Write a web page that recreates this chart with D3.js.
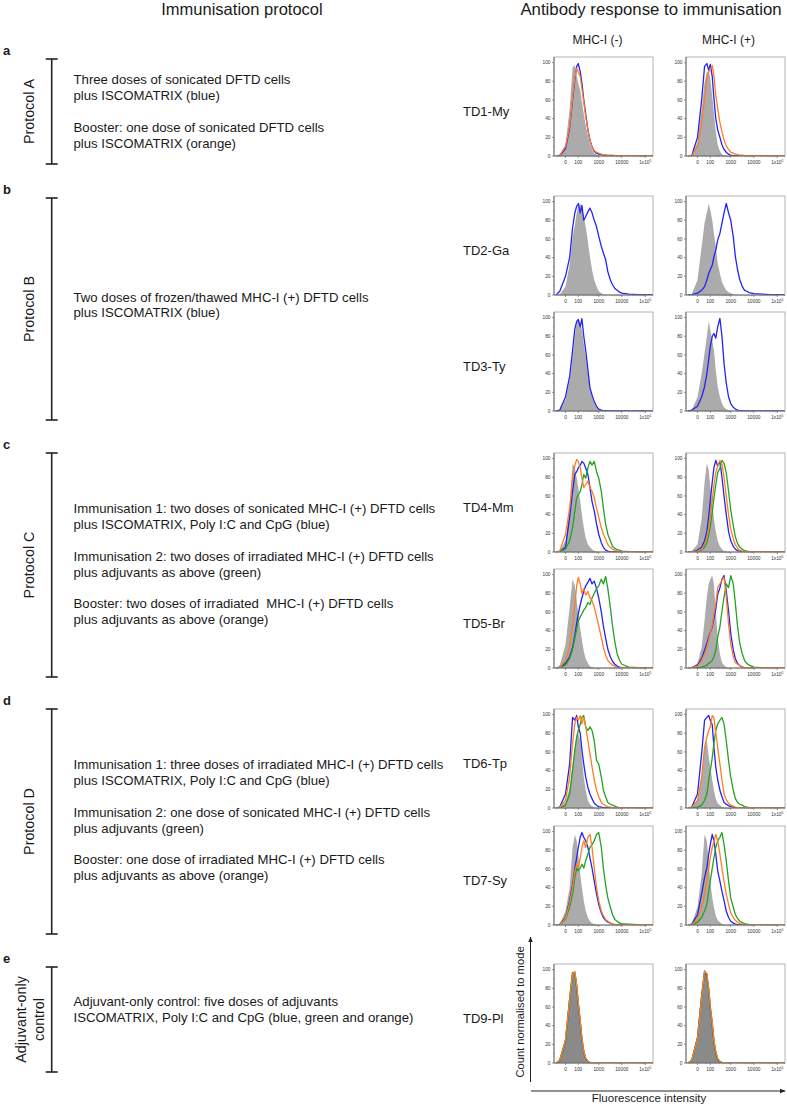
<!DOCTYPE html>
<html><head><meta charset="utf-8">
<script src="https://cdn.jsdelivr.net/npm/d3@7"></script>
<style>
body{margin:0;background:#fff}
text{font-family:"Liberation Sans",Arial,Helvetica,sans-serif;fill:#1a1a1a;white-space:pre}
</style></head>
<body><svg id="chart" width="787" height="1106"></svg>
<script>
// ---------------- DATA ----------------
const bins = [-60,-30,0,20,40,60,80,100,130,160,200,250,320,400,500,630,800,1000,1300,1600,2000,2500,3200,4000,5000,6300,8000,10000,20000,50000,100000,200000];
const rowLabels = ["TD1-My","TD2-Ga","TD3-Ty","TD4-Mm","TD5-Br","TD6-Tp","TD7-Sy","TD9-Pl"];
const columnLabels = ["MHC-I (-)","MHC-I (+)"];
const yTicks = [0,20,40,60,80,100];
const yMinorTicks = [10,30,50,70,90];
const xTicks = [0,100,1000,10000,100000];
const xTickLabels = ["0","100","1000","10000","1x10"];
const xMinorTicks = [-50,50,200,300,400,500,600,700,800,900,2000,3000,4000,5000,6000,7000,8000,9000,20000,30000,40000,50000,60000,70000,80000,90000,200000];

// panel order: TD1(-),TD1(+),TD2(-),TD2(+),...,TD9(-),TD9(+)
const greyCurves = [
 [0,1,12,50,95,97,86,78,70,58,45,33,22,13,7,3,1.5,0.5,0,0,0,0,0,0,0,0,0,0,0,0,0,0],
 [0,0.5,15,50,79,90,91,83,64,46,26,12,5,2,0.5,0,0,0,0,0,0,0,0,0,0,0,0,0,0,0,0,0],
 [0,0.5,9,32,62,75,88,95,98,93,84,73,57,41,27,16,9,4,2,0.5,0,0,0,0,0,0,0,0,0,0,0,0],
 [0,1,16,52,77,88,98,91,80,66,52,34,23,14,9,5,3,2,1,0.5,0,0,0,0,0,0,0,0,0,0,0,0],
 [0,1,12,33,58,80,94,98,94,87,72,58,40,26,15,8,4,1,0.5,0,0,0,0,0,0,0,0,0,0,0,0,0],
 [0,1,15,40,62,80,96,87,76,65,44,26,15,8,4,2,1,0.5,0,0,0,0,0,0,0,0,0,0,0,0,0,0],
 [0,1,12,47,95,90,79,69,54,40,26,15,8,5,3,1,0.5,0,0,0,0,0,0,0,0,0,0,0,0,0,0,0],
 [0,1,8,35,75,95,88,70,52,36,22,12,6,3,1,0.5,0,0,0,0,0,0,0,0,0,0,0,0,0,0,0,0],
 [0,3,25,65,95,88,72,58,42,30,18,10,5,2,1,0,0,0,0,0,0,0,0,0,0,0,0,0,0,0,0,0],
 [0,0.5,5,22,51,76,90,95,99,90,61,33,15,6,3,1,0,0,0,0,0,0,0,0,0,0,0,0,0,0,0,0],
 [0,0.5,6,22,47,65,78,80,72,54,33,19,8,4,2,1,0,0,0,0,0,0,0,0,0,0,0,0,0,0,0,0],
 [0,1,8,30,65,72,55,44,30,19,10,5,3,1,0.5,0,0,0,0,0,0,0,0,0,0,0,0,0,0,0,0,0],
 [0,1,15,40,83,97,90,76,54,40,26,15,8,4,2,1,0,0,0,0,0,0,0,0,0,0,0,0,0,0,0,0],
 [0,2,19,54,97,90,69,47,29,19,10,5,3,1,0.5,0,0,0,0,0,0,0,0,0,0,0,0,0,0,0,0,0],
 [0,3,26,70,97,95,82,64,45,27,13,5,2,0.5,0,0,0,0,0,0,0,0,0,0,0,0,0,0,0,0,0,0],
 [0,3,28,72,98,94,80,62,43,25,12,4,1.5,0.5,0,0,0,0,0,0,0,0,0,0,0,0,0,0,0,0,0,0]
];
const blueCurves = [
 [0,0.5,8,30,60,82,96,99,90,78,60,45,28,17,10,5,3,2,1.5,1,1,0.5,0.5,0.3,0.3,0.3,0.3,0.3,0,0,0,0],
 [0,0.5,20,60,96,99,92,98,85,62,40,28,20,12,7,4,2,1,0.5,0.5,0,0,0,0,0,0,0,0,0,0,0,0],
 [0,4,20,40,72,88,95,98,88,96,80,84,89,93,88,80,73,63,52,45,38,25,16,11,7,5,3,2,1,0.5,0.3,0.3],
 [0,0.5,2,5,9,16,23,27,32,41,48,59,66,77,88,98,88,80,62,41,27,16,9,5,4,2.5,2,1.5,1,0.5,0.3,0.3],
 [0,1,15,37,65,88,96,98,90,99,80,65,44,25,17,10,5,2,1,0.5,0.3,0,0,0,0,0,0,0,0,0,0,0],
 [0,1,5,15,26,40,55,69,80,83,78,90,99,80,51,30,15,8,4,2,1,0.5,0.3,0,0,0,0,0,0,0,0,0],
 [0,0.5,5,37,65,83,86,90,93,97,95,90,83,69,54,44,30,19,10,5,2,1,0.5,0,0,0,0,0,0,0,0,0],
 [0,0,2,5,12,22,38,55,75,90,98,92,97,80,60,40,22,12,6,3,1.5,1,0.5,0,0,0,0,0,0,0,0,0],
 [0,0.5,5,12,22,35,48,58,68,75,82,88,92,96,90,93,85,75,60,45,32,20,12,7,4,2,1,0.5,0,0,0,0],
 [0,0.5,3,10,19,26,33,38,44,53,63,79,86,95,99,83,61,37,19,10,5,2.5,1,0.5,0.3,0,0,0,0,0,0,0],
 [0,1,15,47,97,94,99,87,80,62,47,33,22,15,10,5,3,1.5,1,0.5,0.3,0,0,0,0,0,0,0,0,0,0,0],
 [0,1,15,58,94,97,99,94,89,65,44,30,19,12,6,4,2.5,1.5,1,0.5,0.3,0,0,0,0,0,0,0,0,0,0,0],
 [0,0.5,8,26,43,61,72,83,94,99,94,90,83,72,61,47,33,22,13,8,5,3,2,1,0.5,0.3,0,0,0,0,0,0],
 [0,1,11,33,51,61,76,86,97,90,76,58,47,36,26,15,8,4,2,1,0.5,0.3,0,0,0,0,0,0,0,0,0,0],
 [0,3,24,68,96,97,82,63,43,25,12,5,1.5,0.5,0,0,0,0,0,0,0,0,0,0,0,0,0,0,0,0,0,0],
 [0,3,27,72,98,93,79,59,41,23,11,4,1.5,0.5,0,0,0,0,0,0,0,0,0,0,0,0,0,0,0,0,0,0]
];
const greenCurves = [
 null, null, null, null, null, null,
 [0,0.5,3,12,26,44,58,61,65,72,83,79,90,97,93,97,86,79,65,47,30,19,12,6,4,2.5,2,1,0.5,0.3,0,0],
 [0,0,1,2,5,10,18,28,42,58,72,85,90,98,95,85,65,45,28,16,9,5,3,1.5,1,0.5,0,0,0,0,0,0],
 [0,0.5,3,10,20,32,42,50,55,58,62,65,70,68,75,80,85,88,95,90,98,85,65,45,28,15,8,4,1,0.3,0,0],
 [0,0,0.5,1,2,3,5,6,8,12,19,33,44,61,76,90,86,99,90,69,44,26,15,8,5,3,2,1,0.5,0.3,0,0],
 [0,0,3,15,40,62,76,83,90,97,99,87,83,87,83,72,51,47,33,19,12,6,4,3,2,1,0.5,0.5,0.3,0,0,0],
 [0,0,1,3,8,15,30,40,54,69,83,90,94,97,90,72,51,33,19,10,6,4,3,1.5,1,0.5,0.3,0.3,0,0,0,0],
 [0,0.5,6,19,33,51,61,58,61,65,61,69,76,83,86,90,97,99,83,61,43,29,19,11,6,4,2,1.5,1,0.5,0,0],
 [0,0,3,8,15,22,36,47,61,72,83,90,94,99,86,69,47,29,19,11,7,4,2.5,1.5,1,0.5,0.3,0.3,0,0,0,0],
 [0,3,24,69,97,96,81,64,44,26,12,5,1.5,0.5,0,0,0,0,0,0,0,0,0,0,0,0,0,0,0,0,0,0],
 [0,3,27,71,97,96,78,60,42,24,11,4,1.5,0.5,0,0,0,0,0,0,0,0,0,0,0,0,0,0,0,0,0,0]
];
const orangeCurves = [
 [0,1,10,32,62,84,94,90,85,72,58,42,28,17,10,6,4,3,2,1.5,1,1,1,1,0.5,0.5,0.5,0.5,0.5,0.5,0.5,0.5],
 [0,1,10,36,61,83,90,93,97,86,65,51,36,26,17,11,7,4,3,2,1.5,1,1,0.5,0.5,0.5,0.5,0.5,0.5,0.5,0.5,0.5],
 null, null, null, null,
 [0,1,19,47,79,93,99,97,90,79,69,72,76,69,65,58,47,37,26,19,14,8,5,3,2,1,1,0.5,0.5,0.5,0.3,0.3],
 [0,0,1,3,8,15,25,38,55,72,85,92,98,94,80,60,40,25,14,8,4,2,1,0.5,0.3,0.3,0.3,0.3,0.3,0.3,0.3,0.3],
 [0,1,8,22,45,68,88,97,90,80,85,78,82,75,72,65,55,45,33,22,14,8,5,3,2,1,0.5,0.5,0.3,0.3,0.3,0.3],
 [0,0.3,2,8,15,22,30,37,46,58,69,86,90,94,97,76,47,26,12,6,4,2.5,1,0.5,0.5,0.3,0.3,0.3,0.3,0.3,0.3,0.3],
 [0,0.5,8,33,69,90,97,94,99,90,97,87,72,58,44,30,19,12,6,4,2.5,1.5,1,0.5,0.5,0.3,0.3,0.3,0.3,0.3,0.3,0.3],
 [0,0.5,8,33,65,76,83,87,99,97,80,65,47,30,15,9,5,3,2,1,0.5,0.5,0.3,0.3,0.3,0.3,0.3,0.3,0.3,0.3,0.3,0.3],
 [0,0.5,7,24,40,58,65,61,72,83,90,83,94,97,83,61,40,26,15,10,6,4,2,1,0.5,0.5,0.3,0.3,0.3,0.3,0.3,0.3],
 [0,0.5,6,19,33,47,61,72,83,90,97,90,76,61,47,33,22,13,8,5,3,1.5,1,0.5,0.5,0.3,0.3,0.3,0.3,0.3,0.3,0.3],
 [0,3,25,68,95,98,83,65,45,27,13,5,2,0.5,0.3,0.3,0.3,0.3,0.3,0.3,0.3,0.3,0.3,0.3,0.3,0.3,0.3,0.3,0.3,0.3,0.3,0.3],
 [0,3,26,70,99,95,80,61,43,25,12,5,2,0.5,0.3,0.3,0.3,0.3,0.3,0.3,0.3,0.3,0.3,0.3,0.3,0.3,0.3,0.3,0.3,0.3,0.3,0.3]
];

const protocolLetters = ["a","b","c","d","e"];
const protocolNames = [["Protocol A"],["Protocol B"],["Protocol C"],["Protocol D"],["Adjuvant-only","control"]];
const protocolParagraphs = [
 [["Three doses of sonicated DFTD cells","plus ISCOMATRIX (blue)"],
  ["Booster: one dose of sonicated DFTD cells","plus ISCOMATRIX (orange)"]],
 [["Two doses of frozen/thawed MHC-I (+) DFTD cells","plus ISCOMATRIX (blue)"]],
 [["Immunisation 1: two doses of sonicated MHC-I (+) DFTD cells","plus ISCOMATRIX, Poly I:C and CpG (blue)"],
  ["Immunisation 2: two doses of irradiated MHC-I (+) DFTD cells","plus adjuvants as above (green)"],
  ["Booster: two doses of irradiated  MHC-I (+) DFTD cells","plus adjuvants as above (orange)"]],
 [["Immunisation 1: three doses of irradiated MHC-I (+) DFTD cells","plus ISCOMATRIX, Poly I:C and CpG (blue)"],
  ["Immunisation 2: one dose of sonicated MHC-I (+) DFTD cells","plus adjuvants (green)"],
  ["Booster: one dose of irradiated MHC-I (+) DFTD cells","plus adjuvants as above (orange)"]],
 [["Adjuvant-only control: five doses of adjuvants","ISCOMATRIX, Poly I:C and CpG (blue, green and orange)"]]
];

// ---------------- LAYOUT ----------------
const svg = d3.select("#chart");
const PW = 99, PH = 99;
const rowTops = [57,196,312,453,569,709,826,964];
const colLefts = [554,686];
const bracketSpans = [[59,164],[198,420],[453,677],[709,934],[967,1072]];
const firstBaselines = [84,301.5,513,769,1006];
const lineStep = 15.9, paraStep = 31.7;
const colors = {blue:"#2323f5", green:"#22a322", orange:"#ff7d24", grey:"#ababab", greyDark:"#8a8a8a"};

// headers
svg.append("text").attr("x",242).attr("y",14.5).attr("text-anchor","middle").style("font-size","16.5px").text("Immunisation protocol");
svg.append("text").attr("x",651).attr("y",14.5).attr("text-anchor","middle").style("font-size","16.8px").text("Antibody response to immunisation");
const colCenters = [597.5,728.5];
columnLabels.forEach((c,i)=>{
  svg.append("text").attr("x",colCenters[i]).attr("y",44).attr("text-anchor","middle").style("font-size","12px").text(c);
});

// protocol groups
protocolLetters.forEach((L,k)=>{
  const [t,b] = bracketSpans[k];
  svg.append("text").attr("x",3).attr("y",t-4).style("font-size","13px").style("font-weight","bold").text(L);
  const g = svg.append("g").attr("stroke","#222").attr("stroke-width",1.6);
  g.append("line").attr("x1",51.7).attr("x2",51.7).attr("y1",t).attr("y2",b);
  g.append("line").attr("x1",45.7).attr("x2",57.7).attr("y1",t).attr("y2",t);
  g.append("line").attr("x1",45.7).attr("x2",57.7).attr("y1",b).attr("y2",b);
  const cy = (t+b)/2;
  const names = protocolNames[k];
  const xs = names.length===1 ? [33.5] : [25.5,43.5];
  names.forEach((n,j)=>{
    svg.append("text").attr("transform",`translate(${xs[j]},${cy}) rotate(-90)`)
      .attr("text-anchor","middle").style("font-size","14.3px").text(n);
  });
  let y = firstBaselines[k] - lineStep;
  protocolParagraphs[k].forEach((para,pi)=>{
    if(pi>0) y += paraStep - lineStep;
    para.forEach(line=>{
      y += lineStep;
      svg.append("text").attr("x",73.5).attr("y",y).style("font-size","13.2px").text(line);
    });
  });
});

// scales
const x = d3.scaleSymlog().constant(40).domain([-83.5,212600]).range([0,PW]);
const yS = d3.scaleLinear().domain([0,106]).range([PH,0]);
const area = d3.area().x((d,i)=>x(bins[i])).y0(PH).y1(d=>yS(d));
const line = d3.line().x((d,i)=>x(bins[i])).y(d=>yS(d));

const defs = svg.append("defs");
defs.append("clipPath").attr("id","pclip").append("rect").attr("x",0).attr("y",0).attr("width",PW).attr("height",PH);

rowLabels.forEach((lab,r)=>{
  svg.append("text").attr("x",463).attr("y",rowTops[r]+PH/2+9.5).style("font-size","13px").text(lab);
  [0,1].forEach(c=>{
    const idx = r*2+c;
    const g = svg.append("g").attr("transform",`translate(${colLefts[c]},${rowTops[r]})`);
    const cg = g.append("g").attr("clip-path","url(#pclip)");
    cg.append("path").datum(greyCurves[idx]).attr("d",area)
      .attr("fill", r===rowLabels.length-1 ? colors.greyDark : colors.grey).attr("stroke","none");
    [[blueCurves,colors.blue],[greenCurves,colors.green],[orangeCurves,colors.orange]].forEach(([arr,col])=>{
      if(arr[idx]) cg.append("path").datum(arr[idx]).attr("d",line).attr("fill","none")
        .attr("stroke",col).attr("stroke-width",1.3).attr("stroke-linejoin","round");
    });
    // frame
    g.append("rect").attr("x",0).attr("y",0).attr("width",PW).attr("height",PH)
      .attr("fill","none").attr("stroke","#a0a0a0").attr("stroke-width",0.8);
    g.append("line").attr("x1",0).attr("x2",0).attr("y1",0).attr("y2",PH).attr("stroke","#555").attr("stroke-width",0.8);
    g.append("line").attr("x1",0).attr("x2",PW).attr("y1",PH).attr("y2",PH).attr("stroke","#555").attr("stroke-width",0.8);
    // y ticks
    yTicks.forEach(v=>{
      g.append("line").attr("x1",-2).attr("x2",0).attr("y1",yS(v)).attr("y2",yS(v)).attr("stroke","#555").attr("stroke-width",0.6);
      g.append("text").attr("x",-3.5).attr("y",yS(v)+1.6).attr("text-anchor","end").style("font-size","4.8px").style("fill","#333").text(v);
    });
    yMinorTicks.forEach(v=>{
      g.append("line").attr("x1",-1.2).attr("x2",0).attr("y1",yS(v)).attr("y2",yS(v)).attr("stroke","#777").attr("stroke-width",0.5);
    });
    // x ticks
    xTicks.forEach((v,i)=>{
      g.append("line").attr("x1",x(v)).attr("x2",x(v)).attr("y1",PH).attr("y2",PH+2).attr("stroke","#555").attr("stroke-width",0.6);
      const t = g.append("text").attr("x",x(v)).attr("y",PH+8).attr("text-anchor","middle").style("font-size","4.8px").style("fill","#333").text(xTickLabels[i]);
      if(i===xTicks.length-1) t.append("tspan").attr("dy",-1.8).style("font-size","3.5px").text("5");
    });
    xMinorTicks.forEach(v=>{
      g.append("line").attr("x1",x(v)).attr("x2",x(v)).attr("y1",PH).attr("y2",PH+1.2).attr("stroke","#777").attr("stroke-width",0.5);
    });
  });
});

// axis arrows
defs.append("marker").attr("id","arr").attr("viewBox","0 0 10 10").attr("refX",9).attr("refY",5)
  .attr("markerWidth",6).attr("markerHeight",6).attr("orient","auto")
  .append("path").attr("d","M0,1 L10,5 L0,9 Z").attr("fill","#222");
svg.append("line").attr("x1",530.5).attr("x2",530.5).attr("y1",1082).attr("y2",937)
  .attr("stroke","#222").attr("stroke-width",1).attr("marker-end","url(#arr)");
svg.append("line").attr("x1",531).attr("x2",785).attr("y1",1091).attr("y2",1091)
  .attr("stroke","#222").attr("stroke-width",1).attr("marker-end","url(#arr)");
svg.append("text").attr("transform","translate(524,1012) rotate(-90)").attr("text-anchor","middle")
  .style("font-size","11.2px").text("Count normalised to mode");
svg.append("text").attr("x",649).attr("y",1101.7).attr("text-anchor","middle")
  .style("font-size","11.5px").text("Fluorescence intensity");
</script></body></html>
